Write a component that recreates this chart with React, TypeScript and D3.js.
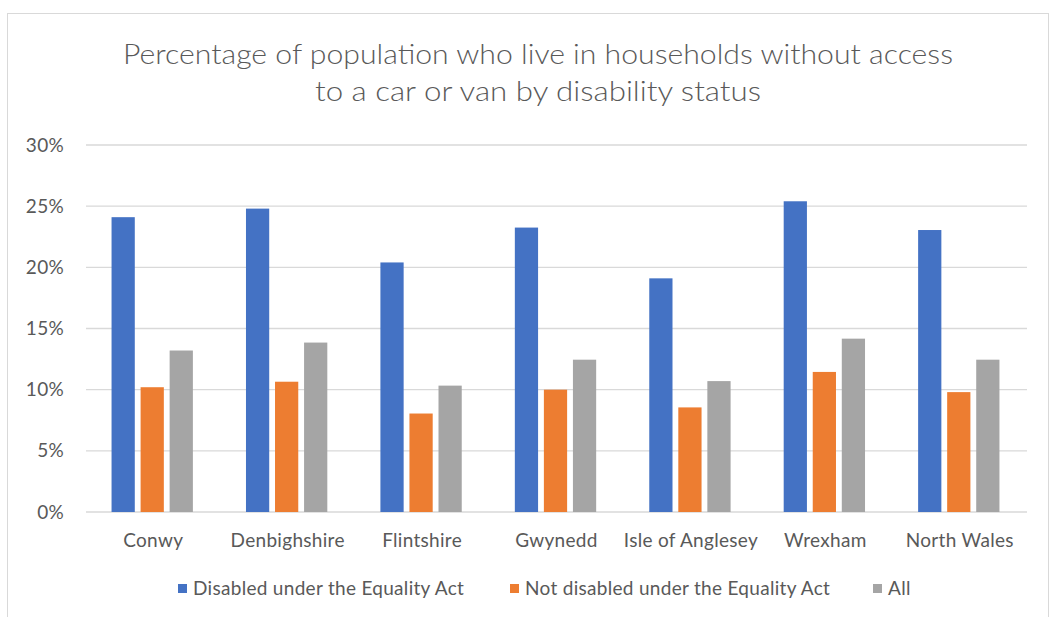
import React from "react";
import * as d3 from "d3";

const categories = ["Conwy", "Denbighshire", "Flintshire", "Gwynedd", "Isle of Anglesey", "Wrexham", "North Wales"];
const seriesNames = ["Disabled under the Equality Act", "Not disabled under the Equality Act", "All"];
const disabled = [24.1, 24.8, 20.4, 23.25, 19.1, 25.4, 23.05];
const notDisabled = [10.2, 10.65, 8.05, 10.0, 8.55, 11.45, 9.8];
const allPeople = [13.2, 13.85, 10.33, 12.45, 10.7, 14.17, 12.45];
const yTicks = [0, 5, 10, 15, 20, 25, 30];
const titleLines = ["Percentage of population who live in households without access", "to a car or van by disability status"];
const titleWidths = [830, 446];

const colors = ["#4472C4", "#ED7D31", "#A5A5A5"];
const seriesValues = [disabled, notDisabled, allPeople];

const W = 1056;
const H = 617;
const plot = { left: 86, right: 1027, top: 145, bottom: 512 };
const font = "Lato, 'Open Sans', sans-serif";

export default function App() {
  const x = d3.scaleBand<string>().domain(categories).range([plot.left, plot.right]).paddingInner(0).paddingOuter(0);
  const y = d3.scaleLinear().domain([0, 30]).range([plot.bottom, plot.top]);
  const groupW = x.bandwidth() * 0.605;

  const legendX = [178, 510, 873];

  return (
    <svg width={W} height={H} style={{ position: "absolute", left: 0, top: 0, display: "block" }}>
      <rect x={0} y={0} width={W} height={H} fill="#ffffff" />
      <rect x={7.5} y={13.5} width={1041} height={640} fill="#ffffff" stroke="#D9D9D9" strokeWidth={1} />
      {titleLines.map((t, i) => (
        <text
          key={i}
          x={538}
          y={64 + i * 37}
          textAnchor="middle"
          fontFamily={font}
          fontWeight={300}
          fontSize={27}
          fill="#595959"
          textLength={titleWidths[i]}
          lengthAdjust="spacingAndGlyphs"
        >
          {t}
        </text>
      ))}
      {yTicks.map((t) => (
        <g key={t}>
          <line x1={plot.left} x2={plot.right} y1={y(t)} y2={y(t)} stroke="#D9D9D9" strokeWidth={1.3} />
          <text x={64} y={y(t) + 6.5} textAnchor="end" fontFamily={font} fontSize={19} letterSpacing={0.3} fill="#595959">
            {t}%
          </text>
        </g>
      ))}
      {categories.map((c, ci) => {
        const cx = (x(c) as number) + x.bandwidth() / 2 - 1;
        const inner = d3.scaleBand<number>().domain([0, 1, 2]).range([cx - groupW / 2, cx + groupW / 2]).paddingInner(0.2).paddingOuter(0);
        return (
          <g key={c}>
            {seriesValues.map((vals, si) => (
              <rect
                key={si}
                x={inner(si) as number}
                y={y(vals[ci])}
                width={inner.bandwidth()}
                height={plot.bottom - y(vals[ci])}
                fill={colors[si]}
              />
            ))}
            <text x={cx + 1} y={547} textAnchor="middle" fontFamily={font} fontSize={19} letterSpacing={0.3} fill="#595959">
              {c}
            </text>
          </g>
        );
      })}
      {seriesNames.map((s, i) => (
        <g key={s}>
          <rect x={legendX[i]} y={584} width={9} height={9} fill={colors[i]} />
          <text x={legendX[i] + 15} y={595} fontFamily={font} fontSize={19} letterSpacing={0.3} fill="#595959">
            {s}
          </text>
        </g>
      ))}
    </svg>
  );
}
